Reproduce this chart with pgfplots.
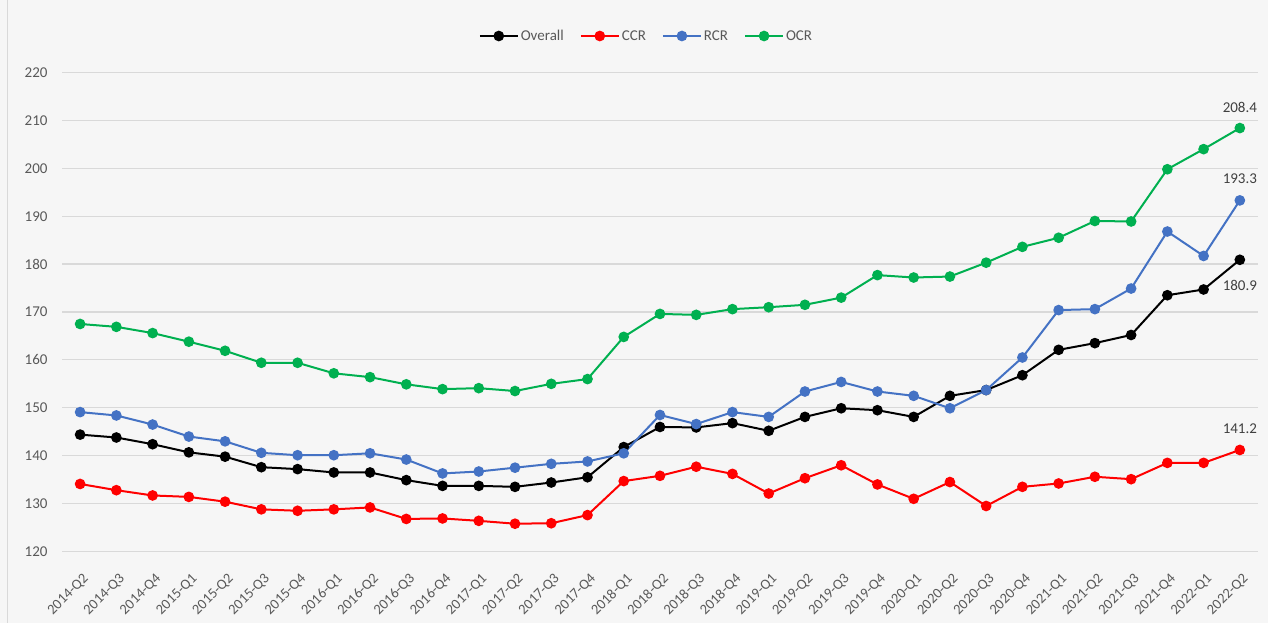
\documentclass[border=0pt]{standalone}
\usepackage{fontspec}
\setmainfont{Carlito}
\usepackage{pgfplots}
\usepackage{pgfplotstable}
\pgfplotsset{compat=1.18}
\definecolor{ccrc}{HTML}{FF0000}
\definecolor{rcrc}{HTML}{4472C4}
\definecolor{ocrc}{HTML}{00B050}
\definecolor{gridc}{HTML}{D9D9D9}
\definecolor{txtc}{HTML}{595959}
\definecolor{lblc}{HTML}{404040}
\definecolor{bgc}{HTML}{F6F6F6}

\pgfplotstableread{
i overall ccr rcr ocr
0 144.4 134.1 149.1 167.5
1 143.8 132.8 148.4 166.9
2 142.4 131.7 146.5 165.6
3 140.7 131.4 144.0 163.8
4 139.8 130.4 143.0 161.9
5 137.6 128.8 140.6 159.4
6 137.2 128.5 140.1 159.4
7 136.5 128.8 140.1 157.2
8 136.5 129.2 140.5 156.4
9 134.9 126.8 139.2 154.9
10 133.7 126.9 136.3 153.9
11 133.7 126.4 136.7 154.1
12 133.5 125.8 137.5 153.5
13 134.4 125.9 138.3 155.0
14 135.5 127.6 138.8 156.0
15 141.8 134.7 140.5 164.8
16 146.0 135.8 148.5 169.6
17 145.9 137.7 146.6 169.4
18 146.8 136.2 149.1 170.6
19 145.2 132.1 148.1 171.0
20 148.1 135.3 153.4 171.5
21 149.9 138.0 155.4 173.0
22 149.5 134.0 153.4 177.7
23 148.1 131.0 152.5 177.2
24 152.5 134.5 149.9 177.4
25 153.7 129.5 153.7 180.3
26 156.8 133.5 160.5 183.6
27 162.1 134.2 170.4 185.5
28 163.5 135.6 170.6 189.0
29 165.2 135.1 174.9 188.9
30 173.5 138.5 186.8 199.8
31 174.7 138.5 181.7 204.0
32 180.9 141.2 193.3 208.4
}\datatable

\begin{document}
\begin{tikzpicture}
\fill[bgc] (-62bp,-71.5bp) rectangle (1206bp,551.5bp);
\draw[gridc, line width=1bp] (-54bp,-71.5bp) -- (-54bp,551.5bp);
\begin{axis}[
  at={(0,0)}, anchor=south west,
  scale only axis, width=1196bp, height=479bp,
  xmin=-0.5, xmax=32.5, ymin=120, ymax=220,
  ytick={120,130,...,220},
  xtick={0,...,32},
  xticklabels={2014-Q2,2014-Q3,2014-Q4,2015-Q1,2015-Q2,2015-Q3,2015-Q4,2016-Q1,2016-Q2,2016-Q3,2016-Q4,2017-Q1,2017-Q2,2017-Q3,2017-Q4,2018-Q1,2018-Q2,2018-Q3,2018-Q4,2019-Q1,2019-Q2,2019-Q3,2019-Q4,2020-Q1,2020-Q2,2020-Q3,2020-Q4,2021-Q1,2021-Q2,2021-Q3,2021-Q4,2022-Q1,2022-Q2},
  axis line style={draw=none},
  major tick length=0pt,
  ymajorgrids,
  grid style={gridc, line width=1.2bp},
  /pgf/number format/assume math mode=true,
  ticklabel style={text=txtc},
  yticklabel style={font=\fontsize{15bp}{17bp}\selectfont, xshift=-11bp},
  xticklabel style={font=\fontsize{14.5bp}{16bp}\selectfont, xshift=2bp, rotate=45, anchor=north east, inner sep=2bp},
  xticklabel shift=18bp,
  clip=false,
  legend style={at={(0.4887,1.0762)}, anchor=center, draw=none, fill=none,
    font=\fontsize{15bp}{17bp}\selectfont, text=txtc,
    /tikz/every even column/.append style={column sep=14bp}},
  legend columns=4,
  legend image code/.code={\draw[mark repeat=2,mark phase=2] plot coordinates {(0bp,0bp) (19bp,0bp) (38bp,0bp)};},
  every axis plot/.append style={line width=2bp, mark=*, mark size=4.3bp, mark options={solid}},
]
\addplot[black] table[x=i, y=overall] {\datatable};
\addlegendentry{Overall}
\addplot[ccrc] table[x=i, y=ccr] {\datatable};
\addlegendentry{CCR}
\addplot[rcrc] table[x=i, y=rcr] {\datatable};
\addlegendentry{RCR}
\addplot[ocrc] table[x=i, y=ocr] {\datatable};
\addlegendentry{OCR}
\node[text=lblc, font=\fontsize{15bp}{17bp}\selectfont] at (axis cs:32,212.7) {208.4};
\node[text=lblc, font=\fontsize{15bp}{17bp}\selectfont] at (axis cs:32,197.8) {193.3};
\node[text=lblc, font=\fontsize{15bp}{17bp}\selectfont] at (axis cs:32,175.6) {180.9};
\node[text=lblc, font=\fontsize{15bp}{17bp}\selectfont] at (axis cs:32,145.6) {141.2};
\end{axis}
\pgfresetboundingbox
\path (-62bp,-71.5bp) rectangle (1206bp,551.5bp);
\end{tikzpicture}
\end{document}
